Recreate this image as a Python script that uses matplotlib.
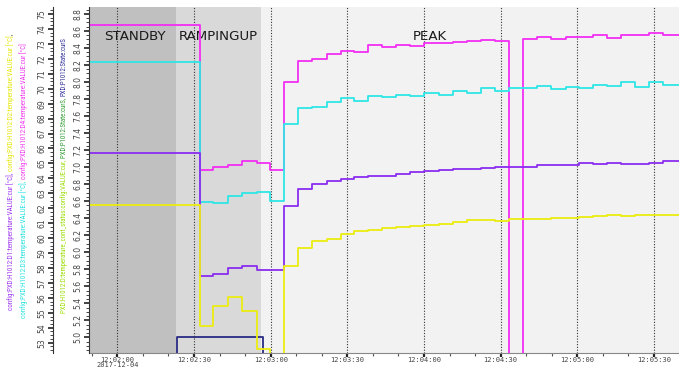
import matplotlib
matplotlib.use("Agg")
import matplotlib.pyplot as plt
import matplotlib.dates as mdates
from matplotlib import font_manager
from matplotlib.ticker import MultipleLocator, FuncFormatter
import pandas as pd

DAY = "2017-12-04 "

# ---- data -------------------------------------------------------------
sample_times = ["12:01:45", "12:02:32.5", "12:02:37.6", "12:02:43.4", "12:02:48.9",
                "12:02:54.5", "12:02:59.7", "12:03:05.3", "12:03:10.8", "12:03:16.3",
                "12:03:21.9", "12:03:27.5", "12:03:32.7", "12:03:38.2", "12:03:43.7",
                "12:03:49.2", "12:03:54.7", "12:04:00.2", "12:04:05.7", "12:04:11.2",
                "12:04:16.7", "12:04:22.2", "12:04:27.8", "12:04:33.3", "12:04:38.6",
                "12:04:44.3", "12:04:49.7", "12:04:55.4", "12:05:00.6", "12:05:06.2",
                "12:05:11.6", "12:05:17.0", "12:05:22.5", "12:05:28.1", "12:05:33.5",
                "12:05:45"]

d4_temp = [74.29, 64.57, 64.73, 64.90, 65.13, 65.06, 64.57, 70.48, 71.84, 72.00,
           72.31, 72.53, 72.49, 72.91, 72.82, 72.93, 72.89, 73.05, 73.05, 73.13,
           73.18, 73.27, 73.20, 40.00, 73.33, 73.45, 73.31, 73.45, 73.45, 73.58,
           73.42, 73.62, 73.58, 73.72, 73.60, 73.60]
d3_temp = [71.78, 62.45, 62.34, 62.83, 63.01, 63.12, 62.50, 67.65, 68.70, 68.77,
           69.10, 69.37, 69.19, 69.52, 69.45, 69.61, 69.50, 69.68, 69.61, 69.83,
           69.72, 70.04, 69.88, 70.04, 70.04, 70.21, 69.97, 70.12, 70.04, 70.28,
           70.19, 70.48, 70.14, 70.44, 70.24, 70.24]
d1_temp = [65.69, 57.44, 57.60, 58.00, 58.15, 57.84, 57.84, 62.12, 63.28, 63.61,
           63.84, 63.95, 64.08, 64.17, 64.17, 64.28, 64.42, 64.46, 64.53, 64.60,
           64.60, 64.68, 64.77, 64.77, 64.77, 64.89, 64.89, 64.89, 65.00, 64.93,
           65.00, 64.95, 64.95, 65.06, 65.15, 65.15]
d2_temp = [62.25, 54.09, 55.43, 56.08, 55.10, 52.58, 50.00, 58.10, 59.37, 59.78,
           59.94, 60.29, 60.45, 60.56, 60.69, 60.74, 60.81, 60.91, 60.96, 61.07,
           61.18, 61.20, 61.16, 61.25, 61.25, 61.29, 61.36, 61.36, 61.41, 61.45,
           61.52, 61.45, 61.52, 61.58, 61.58, 61.58]

state_times = ["12:01:45", "12:02:23.2", "12:02:57.1", "12:05:45"]
state_values = [4, 5, 4, 4]

phase_names = ["STANDBY", "RAMPINGUP", "PEAK"]
phase_starts = ["12:01:45", "12:02:23.0", "12:02:56.4"]
phase_ends = ["12:02:23.0", "12:02:56.4", "12:05:45"]
phase_label_at = ["12:02:06.7", "12:02:39.7", "12:04:02.3"]
phase_colors = ["#c0c0c0", "#d9d9d9", "#f2f2f2"]

x_range = ["12:01:49.3", "12:05:39.8"]
temp_range = (52.33, 75.47)
state_range = (4.82, 8.88)


def tnum(values):
    return mdates.date2num(pd.to_datetime([DAY + v for v in values], format="mixed"))


def narrow_font():
    """Pick a condensed sans face if one is installed, else a compact sans."""
    entries = font_manager.fontManager.ttflist
    names = {f.name for f in entries}
    for want in ["Liberation Sans Narrow", "DejaVu Sans Condensed", "Roboto Condensed",
                 "Open Sans Condensed", "Noto Sans Condensed"]:
        if want in names:
            return dict(family=[want, "DejaVu Sans"])
    for f in entries:
        if str(f.stretch) in ("condensed", "semi-condensed", "extra-condensed") \
                and f.style == "normal" and f.weight in (400, "normal", "regular"):
            return dict(family=[f.name, "DejaVu Sans"], fontstretch=f.stretch)
    for want in ["Liberation Sans", "Roboto"]:
        if want in names:
            return dict(family=[want, "DejaVu Sans"])
    return dict(family=["DejaVu Sans"])


PX = 0.72  # points per pixel at 100 dpi

# ---- figure -----------------------------------------------------------
W, H = 679, 370
fig = plt.figure(figsize=(W / 100, H / 100), dpi=100)
fig.patch.set_facecolor("white")
x0, x1, y_top, y_bot = 90, 679, 7, 352.7
ax = fig.add_axes([x0 / W, 1 - y_bot / H, (x1 - x0) / W, (y_bot - y_top) / H])
axt = ax.twinx()

xs = tnum(sample_times)
xl = tnum(x_range)

# phase bands
ps, pe, pl = tnum(phase_starts), tnum(phase_ends), tnum(phase_label_at)
for name, a, b, c, lx in zip(phase_names, ps, pe, phase_colors, pl):
    ax.axvspan(a, b, color=c, lw=0, zorder=0)
    ax.text(lx, 8.53, name, ha="center", va="center", fontsize=9.6,
            family="DejaVu Sans", color="#1a1a1a", zorder=1)

# state line
ax.step(tnum(state_times), state_values, where="post", color="#2b2b85", lw=1.3, zorder=3)

# temperatures
series = [(d4_temp, "#f22ef2"), (d3_temp, "#2ee6e6"),
          (d1_temp, "#8a2cf0"), (d2_temp, "#ecec10")]
for vals, col in series:
    axt.step(xs, vals, where="post", color=col, lw=1.3, zorder=3)

ax.set_xlim(*xl)
ax.set_ylim(*state_range)
axt.set_ylim(*temp_range)

# time axis: major ticks every 30 s with dotted guide lines, minor every 10 s
ax.xaxis.set_major_locator(mdates.SecondLocator(bysecond=[0, 30]))
ax.xaxis.set_minor_locator(mdates.SecondLocator(bysecond=[10, 20, 40, 50]))
for t in ax.xaxis.get_majorticklocs():
    if xl[0] < t < xl[1]:
        axt.axvline(t, color="#333333", lw=0.8, ls=(0, (1, 1.5)), zorder=2)


def fmt_time(x, pos):
    d = mdates.num2date(x)
    s = d.strftime("%H:%M:%S")
    if pos == 0:
        s += "\n" + d.strftime("%Y-%m-%d")
    return s


ax.xaxis.set_major_formatter(FuncFormatter(fmt_time))
ax.tick_params(axis="x", which="major", length=3, width=1.6, color="#222222",
               labelsize=5, labelcolor="#444444", pad=0.3)
ax.tick_params(axis="x", which="minor", length=2, width=0.8, color="#555555")

# spines
for a in (ax, axt):
    for s in ("top", "right"):
        a.spines[s].set_visible(False)
ax.spines["bottom"].set_color("#888888")
ax.spines["left"].set_color("#333333")
ax.spines["left"].set_position(("outward", 1 * PX))

# state axis (inner left)
ax.yaxis.set_major_locator(MultipleLocator(0.2))
ax.yaxis.set_minor_locator(MultipleLocator(0.05))
ax.yaxis.set_major_formatter(FuncFormatter(lambda v, p: f"{v:.1f}"))
ax.tick_params(axis="y", which="major", length=3.5, width=1.2, labelsize=5.5,
               labelrotation=90, labelcolor="#444444", pad=1, color="#222222")
ax.tick_params(axis="y", which="minor", length=2, width=0.7, color="#444444")

# temperature axis (outer left)
axt.yaxis.set_ticks_position("left")
axt.yaxis.set_label_position("left")
axt.spines["left"].set_visible(True)
axt.spines["left"].set_position(("outward", 37 * PX))
axt.spines["left"].set_color("#333333")
axt.spines["bottom"].set_visible(False)
axt.yaxis.set_major_locator(MultipleLocator(1))
axt.yaxis.set_minor_locator(MultipleLocator(0.25))
axt.tick_params(axis="y", which="major", length=3.5, width=1.2, labelsize=5.5,
                labelrotation=90, labelcolor="#444444", pad=1, color="#222222")
axt.tick_params(axis="y", which="minor", length=2, width=0.7, color="#444444")

fig.canvas.draw()
for lab in ax.xaxis.get_majorticklabels():
    lab.set_family("DejaVu Sans Mono")
    lab.set_linespacing(0.8)
for lab in ax.get_yticklabels() + axt.get_yticklabels():
    lab.set_verticalalignment("center")

# multi-coloured axis titles, written bottom-to-top
titles = [
    (11, 310, 40, [("config:PXD:H1012:D1:temperature:VALUE:cur [°C], ", "#9a30f0"),
                   ("config:PXD:H1012:D2:temperature:VALUE:cur [°C]", "#e6e600"),
                   (",", "#333333")]),
    (24, 318, 48, [("config:PXD:H1012:D3:temperature:VALUE:cur [°C], ", "#22e0e0"),
                   ("config:PXD:H1012:D4:temperature:VALUE:cur [°C]", "#f030f0")]),
    (64, 313, 40, [("PXD:H1012:D:temperature_cont_status:config:VALUE:cur, ", "#99dd00"),
                   ("PXD:P1012:State:curS, ", "#2e9a2e"),
                   ("PXD:P1012:State:curS", "#2b2b99")]),
]
font_kw = narrow_font()
renderer = fig.canvas.get_renderer()
for xpix, ystart, yend, parts in titles:
    # size the font so the whole title spans the available height
    probe = fig.text(0, 0, "".join(p for p, _ in parts), fontsize=10, rotation=90, **font_kw)
    h10 = probe.get_window_extent(renderer).height
    probe.remove()
    fs = min(10 * (ystart - yend) / h10, 6.0)
    y = ystart
    for txt, col in parts:
        t = fig.text(xpix / W, 1 - y / H, txt, fontsize=fs, color=col, rotation=90,
                     rotation_mode="anchor", ha="left", va="center", **font_kw)
        y -= t.get_window_extent(renderer).height

fig.savefig("out.png", dpi=100)
